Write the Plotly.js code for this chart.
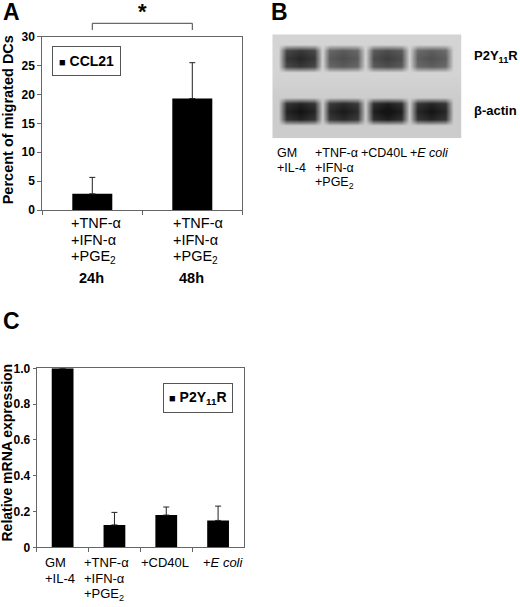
<!DOCTYPE html>
<html>
<head>
<meta charset="utf-8">
<script src="https://cdn.plot.ly/plotly-3.0.1.min.js"></script>
<style>
html, body { margin: 0; padding: 0; background: #fff; }
#chart { width: 520px; height: 607px; }
</style>
</head>
<body>
<div id="chart"></div>
<script>
var W = 520, H = 607;
var FONT = 'Liberation Sans, Arial, sans-serif';

// A: percent of migrated DCs towards CCL21
var migCats = ['24h', '48h'];
var migLabels = [['+TNF-α', '+IFN-α', '+PGE<sub>2</sub>'], ['+TNF-α', '+IFN-α', '+PGE<sub>2</sub>']];
var migValues = [2.8, 19.3];
var migErrors = [2.85, 6.2];

// B: band darkness per lane (0 = gel background, 1 = black)
var gelLanes = [['GM', '+IL-4'], ['+TNF-α', '+IFN-α', '+PGE<sub>2</sub>'], ['+CD40L'], ['+<i>E coli</i>']];
var p2yBands = [0.9, 0.7, 0.78, 0.68];
var actinBands = [0.97, 0.93, 1.0, 0.96];

// C: relative P2Y11R mRNA expression
var mrnaCats = ['GM', 'TNF', 'CD40L', 'Ecoli'];
var mrnaLabels = [['GM', '+IL-4'], ['+TNF-α', '+IFN-α', '+PGE<sub>2</sub>'], ['+CD40L'], ['+<i>E coli</i>']];
var mrnaValues = [1.0, 0.125, 0.18, 0.15];
var mrnaErrors = [0, 0.07, 0.045, 0.08];
var mrnaTickVals = [0, 0.2, 0.4, 0.6, 0.8, 1.0];
var mrnaTickText = ['0', '0.2', '0.4', '0.6', '0.8', '1.0'];

function px(p) { return p / W; }
function py(p) { return 1 - p / H; }

// gel grid: soft band envelopes around each lane / row
var laneOffsets = [-0.5, -0.32, 0, 0.32, 0.5];
var laneShape = [0, 0.9, 1, 0.9, 0];
var gelX = [-0.634], shapeX = [0], laneOfX = [-1];
gelLanes.forEach(function (l, i) {
  laneOffsets.forEach(function (o, k) {
    gelX.push(i + o); shapeX.push(laneShape[k]); laneOfX.push(i);
  });
});
gelX.push(3.70); shapeX.push(0); laneOfX.push(-1);
var gelY = [34.3, 44, 50, 58, 66, 72, 86, 97, 103, 111, 119, 125, 138.3];
var rowOfY = [-1, -1, 0, 0, 0, -1, -1, -1, 1, 1, 1, -1, -1];
var shapeY = [0, 0, 0.9, 1, 0.9, 0, 0, 0, 0.9, 1, 0.9, 0, 0];
var bgY = [0, 0, 0, 0, 0, 0, 0.02, 0.04, 0.04, 0.04, 0.04, 0.04, 0.04];
var bandRows = [p2yBands, actinBands];
var gelZ = gelY.map(function (y, j) {
  return gelX.map(function (x, i) {
    var r = rowOfY[j], l = laneOfX[i];
    var band = (r >= 0 && l >= 0) ? bandRows[r][l] * shapeY[j] * shapeX[i] : 0;
    return bgY[j] + band;
  });
});

var ctx = document.createElement('canvas').getContext('2d');
function textWidth(s, size) {
  ctx.font = size + 'px "Liberation Sans"';
  return ctx.measureText(s.replace(/<[^>]+>/g, '')).width;
}
// left aligned multi-line labels centred on each category (plus a small nudge)
function labelBlocks(xref, blocks, topY, step, size, nudge) {
  var out = [];
  blocks.forEach(function (lines, i) {
    var w = Math.max.apply(null, lines.map(function (s) { return textWidth(s, size); }));
    lines.forEach(function (s, j) {
      out.push({
        xref: xref, x: i, yref: 'paper', y: py(topY + j * step),
        xanchor: 'left', yanchor: 'middle', xshift: nudge[i] - w / 2,
        text: s, showarrow: false, font: {size: size, color: '#000'}
      });
    });
  });
  return out;
}

var errStyle = {color: '#222', thickness: 1, width: 3};

var data = [
  {
    type: 'bar', x: migCats, y: migValues, xaxis: 'x', yaxis: 'y',
    width: 0.4, marker: {color: '#000'},
    error_y: Object.assign({type: 'data', symmetric: false, array: migErrors,
      arrayminus: migErrors.map(function () { return 0; })}, errStyle),
    hoverinfo: 'skip'
  },
  {
    type: 'bar', x: mrnaCats, y: mrnaValues, xaxis: 'x2', yaxis: 'y2',
    width: 0.42, marker: {color: '#000'},
    error_y: Object.assign({type: 'data', symmetric: false, array: mrnaErrors,
      arrayminus: mrnaErrors.map(function () { return 0; })}, errStyle),
    hoverinfo: 'skip'
  },
  {
    type: 'heatmap', x: gelX, y: gelY, z: gelZ, xaxis: 'x3', yaxis: 'y3',
    zmin: 0, zmax: 1, zsmooth: 'best', showscale: false, hoverinfo: 'skip',
    colorscale: [[0, '#d4d4d4'], [1, '#141414']]
  }
];

var axLine = {showline: true, linecolor: '#666', linewidth: 1, mirror: true,
  showgrid: false, zeroline: false, ticks: 'outside', tickcolor: '#666', fixedrange: true};
var tickFont = {size: 12, weight: 'bold', color: '#000'};

var annotations = [
  {xref: 'paper', yref: 'paper', x: px(1), y: py(11.5), xanchor: 'left', yanchor: 'middle',
    text: '<b>A</b>', showarrow: false, font: {size: 23}},
  {xref: 'paper', yref: 'paper', x: px(269), y: py(11.5), xanchor: 'left', yanchor: 'middle',
    text: '<b>B</b>', showarrow: false, font: {size: 23}},
  {xref: 'paper', yref: 'paper', x: px(1), y: py(321), xanchor: 'left', yanchor: 'middle',
    text: '<b>C</b>', showarrow: false, font: {size: 23}},
  {xref: 'x', yref: 'paper', x: 0.5, y: py(12), xanchor: 'center', yanchor: 'middle',
    text: '<b>*</b>', showarrow: false, font: {size: 22}},
  {xref: 'paper', yref: 'paper', x: px(51.7), y: py(46), xanchor: 'left', yanchor: 'top',
    text: '<b><span style="font-size:11px">■</span> CCL21</b>', showarrow: false,
    font: {size: 14}, bordercolor: '#555', borderwidth: 1, borderpad: 6},
  {xref: 'paper', yref: 'paper', x: px(163), y: py(383), xanchor: 'left', yanchor: 'top',
    text: '<b><span style="font-size:11px">■</span> P2Y<sub>11</sub>R</b>', showarrow: false,
    font: {size: 14}, bordercolor: '#555', borderwidth: 1, borderpad: 5},
  {xref: 'paper', yref: 'paper', x: px(8.3), y: py(120), xanchor: 'center', yanchor: 'middle',
    textangle: -90, text: '<b>Percent of migrated DCs</b>', showarrow: false, font: {size: 14.5}},
  {xref: 'paper', yref: 'paper', x: px(6), y: py(452.5), xanchor: 'center', yanchor: 'middle',
    textangle: -90, text: '<b>Relative mRNA expression</b>', showarrow: false, font: {size: 14}},
  {xref: 'paper', yref: 'paper', x: px(472), y: py(57), xanchor: 'left', yanchor: 'middle',
    text: '<b>P2Y<sub>11</sub>R</b>', showarrow: false, font: {size: 13}},
  {xref: 'paper', yref: 'paper', x: px(472), y: py(111), xanchor: 'left', yanchor: 'middle',
    text: '<b>β-actin</b>', showarrow: false, font: {size: 13}}
];
annotations = annotations
  .concat(labelBlocks('x', migLabels, 222.5, 17, 14.5, [2, 3.5]))
  .concat(migCats.map(function (c, i) {
    return {xref: 'x', x: i, yref: 'paper', y: py(277.5), xanchor: 'center', yanchor: 'middle',
      xshift: -1, text: '<b>' + c + '</b>', showarrow: false, font: {size: 14.5}};
  }))
  .concat(labelBlocks('x3', gelLanes, 153, 15, 12.5, [-11, -9.5, -5, -4.5]))
  .concat(labelBlocks('x2', mrnaLabels, 562, 16, 13, [-5, -10, -3, 2.7]));

var bracket = {color: '#444', width: 1};
var layout = {
  width: W, height: H,
  margin: {l: 0, r: 0, t: 0, b: 0},
  paper_bgcolor: '#fff', plot_bgcolor: '#fff',
  showlegend: false,
  font: {family: FONT, color: '#000'},
  xaxis: Object.assign({}, axLine, {domain: [px(42.3), px(242.3)], anchor: 'y',
    type: 'category', range: [-0.5, 1.5], tickson: 'boundaries', ticklen: 4, showticklabels: false}),
  yaxis: Object.assign({}, axLine, {domain: [py(210), py(36.7)], anchor: 'x',
    range: [0, 30], dtick: 5, ticklen: 4, tickfont: tickFont}),
  xaxis2: Object.assign({}, axLine, {domain: [px(36.7), px(244)], anchor: 'y2',
    type: 'category', range: [-0.5, 3.5], tickson: 'boundaries', ticklen: 4, showticklabels: false}),
  yaxis2: Object.assign({}, axLine, {domain: [py(547.3), py(368.3)], anchor: 'x2',
    range: [0, 1], tickvals: mrnaTickVals, ticktext: mrnaTickText, ticklen: 3, tickfont: tickFont}),
  xaxis3: {domain: [px(272.3), px(461.7)], anchor: 'y3', range: [-0.634, 3.70], visible: false, fixedrange: true},
  yaxis3: {domain: [py(138.3), py(34.3)], anchor: 'x3', range: [138.3, 34.3], visible: false, fixedrange: true},
  shapes: [
    {type: 'line', xref: 'x', yref: 'paper', x0: 0, x1: 1, y0: py(23.3), y1: py(23.3), line: bracket},
    {type: 'line', xref: 'x', yref: 'paper', x0: 0, x1: 0, y0: py(23.3), y1: py(30), line: bracket},
    {type: 'line', xref: 'x', yref: 'paper', x0: 1, x1: 1, y0: py(23.3), y1: py(30), line: bracket}
  ],
  annotations: annotations
};

Plotly.newPlot('chart', data, layout, {displayModeBar: false, staticPlot: true});
</script>
</body>
</html>
